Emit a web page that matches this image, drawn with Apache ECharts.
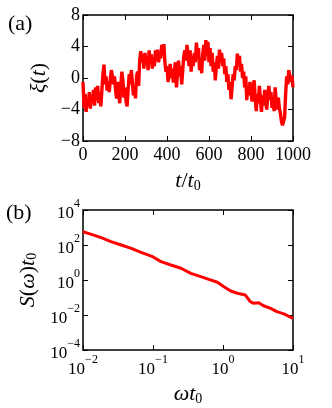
<!DOCTYPE html>
<html>
<head>
<meta charset="utf-8">
<script src="https://cdn.jsdelivr.net/npm/echarts@6/dist/echarts.min.js"></script>
<style>
  html, body { margin: 0; padding: 0; background: #fff; }
  #chart { width: 332px; height: 408px; }
</style>
</head>
<body>
<div id="chart"></div>
<script>
const tStep = 5
const xiValues = [
  -0.5, -3.8, -2.0, -4.3, -2.5, -3.6, -1.8, -3.9, -2.2, -3.0,
  -1.5, -3.5, -1.2, -2.8, -1.0, -3.2, -1.8, -3.6, -1.5, 0.5,
  1.7, -0.8, 0.2, -1.6, -0.5, -1.8, -0.2, 1.0, 0.3, -0.8,
  0.2, -1.5, -2.6, -0.5, -2.0, -3.2, -1.0, 0.8, -0.3, -2.5,
  -1.2, -3.0, -3.6, -1.5, 0.5, -0.8, 1.0, -0.5, -2.2, -1.0,
  -2.6, 0.2, 0.8, -1.0, 2.2, 3.4, 2.0, 3.0, 1.2, 3.2,
  1.8, 2.8, 1.0, 3.5, 2.0, 3.0, 1.2, 2.5, 1.5, 3.5,
  2.2, 3.6, 2.0, 3.2, 2.5, 4.2, 3.0, 4.3, 2.0, 0.8,
  1.5, -0.5, 0.5, 1.8, 0.0, 1.2, -0.6, 1.0, 2.0, -1.2,
  0.5, 2.2, 0.2, 1.5, -0.8, 1.0, 2.8, 3.5, 2.2, 4.2,
  3.0, 1.5, 3.5, 0.8, 2.8, 1.5, 3.2, 2.0, 4.5, 2.8,
  3.8, 1.0, 2.5, 0.6, 3.0, 4.2, 2.2, 4.8, 2.8, 4.6,
  2.0, 3.8, 1.5, 3.2, 0.8, 2.0, -0.3, 1.5, 2.8, 1.2,
  3.6, 2.0, 3.2, 1.5, 2.5, 0.5, 1.5, -0.5, 0.5, -1.5,
  -0.5, -2.7, -1.2, 0.5, -0.3, 1.5, 1.0, 3.1, 2.0, 2.8,
  0.8, 1.8, 0.0, 0.8, -1.2, 0.2, -2.8, -1.0, -2.2, -0.5,
  -1.8, -3.0, -1.2, -0.3, -2.5, -4.2, -2.0, -3.2, -1.0, -2.8,
  -4.3, -2.2, -3.5, -1.5, -3.0, -4.0, -2.2, -1.0, -2.8, -1.8,
  -3.8, -2.5, -4.2, -1.2, -2.8, -4.0, -2.5, -3.8, -4.5, -5.5,
  -6.0, -6.2, -5.0, -2.0, 0.2, -0.8, 1.0, 1.2, -0.5, 0.3,
  -1.2
]

// panel (b): spectrum S(omega) t0 against omega t0
const omegaValues = [
  0.010, 0.0132, 0.0182, 0.0251, 0.0351, 0.049, 0.0676, 0.0989, 0.130,
  0.180, 0.251, 0.347, 0.481, 0.598, 0.832, 1.03, 1.29, 1.60, 2.09,
  2.45, 2.75, 3.24, 3.80, 4.79, 5.89, 7.41, 10.0
]
const spectrumValues = [
  575, 407, 263, 155, 100, 64.6, 38.0, 21.4, 11.2,
  7.24, 4.68, 2.40, 1.55, 1.15, 0.741, 0.417, 0.234, 0.174, 0.138,
  0.0575, 0.0468, 0.0501, 0.0339, 0.0240, 0.0155, 0.0115, 0.00646
]

const serif = "'Liberation Serif', 'DejaVu Serif', serif"
const minus = s => String(s).replace('-', '\u2212')

const xiData = xiValues.map((v, i) => [i * tStep, v])
const spectrumData = omegaValues.map((w, i) => [w, spectrumValues[i]])

const tickStyle = { show: true, inside: true, length: 5, lineStyle: { color: '#000', width: 1 } }
const labelStyle = { color: '#000', fontFamily: serif, fontSize: 18 }
const powLabel = v => '{b|10}{s|' + minus(Math.round(Math.log10(v))) + '}'
const powRich = {
  b: { fontFamily: serif, fontSize: 17, color: '#000', lineHeight: 24, verticalAlign: 'bottom' },
  s: { fontFamily: serif, fontSize: 12, color: '#000', lineHeight: 24, verticalAlign: 'top' }
}
const nameRich = {
  i: { fontFamily: serif, fontStyle: 'italic', fontSize: 22, color: '#000' },
  r: { fontFamily: serif, fontSize: 22, color: '#000' },
  sub: { fontFamily: serif, fontSize: 14, color: '#000', padding: [9, 0, 0, 0] }
}

function hiddenAxis (base) {
  return Object.assign({
    axisLabel: { show: false },
    axisLine: { show: false, onZero: false },
    axisTick: tickStyle,
    splitLine: { show: false }
  }, base)
}

const chart = echarts.init(document.getElementById('chart'), null, { renderer: 'canvas' })
chart.setOption({
  animation: false,
  backgroundColor: '#fff',
  textStyle: { fontFamily: serif },
  grid: [
    { left: 83, top: 15, width: 210, height: 126, show: true, borderColor: '#000', borderWidth: 1.5, backgroundColor: 'transparent' },
    { left: 83, top: 210, width: 210, height: 140, show: true, borderColor: '#000', borderWidth: 1.5, backgroundColor: 'transparent' }
  ],
  xAxis: [
    {
      gridIndex: 0, type: 'value', min: 0, max: 1000, interval: 200,
      axisLine: { show: false, onZero: false }, axisTick: tickStyle, splitLine: { show: false },
      axisLabel: Object.assign({ margin: 5, formatter: v => String(v) }, labelStyle),
      name: '{i|t}{r|/}{i|t}{sub|0}', nameLocation: 'middle', nameGap: 29,
      nameTextStyle: { rich: nameRich }
    },
    hiddenAxis({ gridIndex: 0, type: 'value', min: 0, max: 1000, interval: 200, position: 'top' }),
    {
      gridIndex: 1, type: 'log', logBase: 10, min: 0.01, max: 10,
      axisLine: { show: false, onZero: false }, axisTick: tickStyle, splitLine: { show: false },
      minorTick: { show: false },
      axisLabel: { margin: 4, formatter: powLabel, rich: powRich },
      name: '{i|ωt}{sub|0}', nameLocation: 'middle', nameGap: 33,
      nameTextStyle: { rich: nameRich }
    },
    hiddenAxis({ gridIndex: 1, type: 'log', logBase: 10, min: 0.01, max: 10, position: 'top' })
  ],
  yAxis: [
    {
      gridIndex: 0, type: 'value', min: -8, max: 8, interval: 4,
      axisLine: { show: false, onZero: false }, axisTick: tickStyle, splitLine: { show: false },
      axisLabel: Object.assign({ margin: 3, formatter: v => minus(v) }, labelStyle),
      name: '{i|ξ}{r|(}{i|t}{r|)}', nameLocation: 'middle', nameGap: 25,
      nameTextStyle: { rich: nameRich }
    },
    hiddenAxis({ gridIndex: 0, type: 'value', min: -8, max: 8, interval: 4, position: 'right' }),
    {
      gridIndex: 1, type: 'log', logBase: 10, min: 1e-4, max: 1e4, interval: 2,
      axisLine: { show: false, onZero: false }, axisTick: tickStyle, splitLine: { show: false },
      minorTick: { show: false },
      axisLabel: { margin: 3, formatter: powLabel, rich: powRich },
      name: '{i|S}{r|(}{i|ω}{r|)}{i|t}{sub|0}', nameLocation: 'middle', nameGap: 25,
      nameTextStyle: { rich: nameRich }
    },
    hiddenAxis({ gridIndex: 1, type: 'log', logBase: 10, min: 1e-4, max: 1e4, interval: 2, position: 'right' })
  ],
  series: [
    {
      type: 'line', xAxisIndex: 0, yAxisIndex: 0, data: xiData,
      showSymbol: false, lineStyle: { color: '#ff0000', width: 3.4 }
    },
    {
      type: 'line', xAxisIndex: 2, yAxisIndex: 2, data: spectrumData,
      showSymbol: false, lineStyle: { color: '#ff0000', width: 3 }
    }
  ],
  graphic: [
    { type: 'text', left: 8, top: 13, style: { text: '(a)', font: '22px ' + serif, fill: '#000' } },
    { type: 'text', left: 6, top: 202, style: { text: '(b)', font: '22px ' + serif, fill: '#000' } }
  ]
})
</script>
</body>
</html>
